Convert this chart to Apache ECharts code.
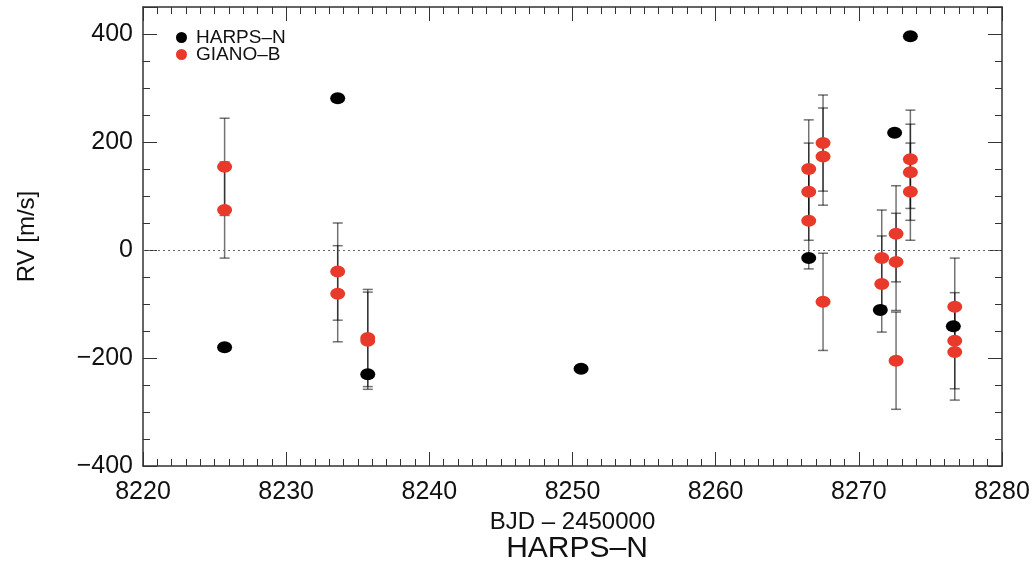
<!DOCTYPE html>
<html>
<head>
<meta charset="utf-8">
<script src="https://cdn.jsdelivr.net/npm/echarts@6/dist/echarts.min.js"></script>
<style>
  html, body { margin: 0; padding: 0; background: #fff; }
  #main { width: 1036px; height: 564px; }
</style>
</head>
<body>
<div id="main"></div>
<script>
// HARPS-N velocities (black)
var harpsX = [8225.7, 8233.6, 8235.7, 8250.6, 8266.5, 8271.5, 8272.5, 8273.6, 8276.6];
var harpsRV = [-180, 281, -230, -220, -15, -111, 217, 396, -141];

// GIANO-B velocities (red) with error bars
var gianoX = [8225.7, 8225.7, 8233.6, 8233.6, 8235.7, 8235.7,
  8266.5, 8266.5, 8266.5, 8267.5, 8267.5, 8267.5,
  8271.6, 8271.6, 8272.6, 8272.6, 8272.6,
  8273.6, 8273.6, 8273.6, 8276.7, 8276.7, 8276.7];
var gianoRV = [154, 74, -40, -81, -163, -168,
  150, 108, 54, 198, 173, -96,
  -15, -63, 30, -22, -205,
  168, 144, 108, -105, -168, -189];
var gianoErr = [90, 89, 90, 89, 90, 90,
  91, 90, 89, 89, 90, 90,
  89, 89, 89, 90, 90,
  91, 89, 90, 90, 89, 89];

var xTicks = [8220, 8230, 8240, 8250, 8260, 8270, 8280];
var yTicks = [-400, -200, 0, 200, 400];

var font = 'Liberation Sans, Arial, Helvetica, sans-serif';
var ink = '#111';

var harpsData = harpsX.map(function (x, i) { return [x, harpsRV[i]]; });
var gianoData = gianoX.map(function (x, i) { return [x, gianoRV[i]]; });
var errData = gianoX.map(function (x, i) { return [x, gianoRV[i] - gianoErr[i], gianoRV[i] + gianoErr[i]]; });

function fmtY(v) {
  if (yTicks.indexOf(v) < 0) return '';
  return String(v).replace('-', '\u2212');
}

var myChart = echarts.init(document.getElementById('main'));

var frameLine = { show: true, onZero: false, lineStyle: { color: '#333', width: 1.5 } };
var tickStyle = { color: '#333', width: 1 };

function xAx(pos, extra) {
  var a = {
    type: 'value',
    min: xTicks[0],
    max: xTicks[xTicks.length - 1],
    interval: 10,
    position: pos,
    axisLine: frameLine,
    axisTick: { inside: true, length: 14, lineStyle: tickStyle },
    minorTick: { show: true, splitNumber: 10, length: 7, lineStyle: tickStyle },
    axisLabel: { show: false },
    splitLine: { show: false }
  };
  for (var k in extra) a[k] = extra[k];
  return a;
}

function yAx(pos, step, extra) {
  var a = {
    type: 'value',
    min: -400,
    max: 450,
    interval: step,
    position: pos,
    axisLine: step === 200 ? frameLine : { show: false, onZero: false },
    axisTick: { inside: true, length: step === 200 ? 14 : 7, lineStyle: tickStyle },
    axisLabel: { show: false },
    splitLine: { show: false }
  };
  for (var k in extra) a[k] = extra[k];
  return a;
}

var option = {
  animation: false,
  backgroundColor: '#fff',
  title: {
    text: 'HARPS\u2013N',
    left: 572,
    top: 529,
    textAlign: 'center',
    textStyle: { fontFamily: font, fontSize: 30, fontWeight: 'normal', color: ink }
  },
  legend: {
    orient: 'vertical',
    left: 171,
    top: 23,
    itemGap: -2,
    itemWidth: 13,
    itemHeight: 11,
    icon: 'circle',
    textStyle: { fontFamily: font, fontSize: 19, lineHeight: 16, color: ink, padding: [0, 0, 0, 3] },
    data: ['HARPS\u2013N', 'GIANO\u2013B']
  },
  grid: { left: 143, right: 34, top: 7, bottom: 98 },
  xAxis: [
    xAx('bottom', {
      name: 'BJD \u2013 2450000',
      nameLocation: 'middle',
      nameGap: 34,
      nameTextStyle: { fontFamily: font, fontSize: 24, color: ink },
      axisLabel: { fontFamily: font, fontSize: 25, color: ink, margin: 14, formatter: function (v) { return String(v); } }
    }),
    xAx('top', {})
  ],
  yAxis: [
    yAx('left', 200, {
      name: 'RV [m/s]',
      nameLocation: 'middle',
      nameGap: 104,
      nameTextStyle: { fontFamily: font, fontSize: 24, color: ink },
      axisLabel: { fontFamily: font, fontSize: 25, color: ink, margin: 10, formatter: fmtY }
    }),
    yAx('left', 50, {}),
    yAx('right', 200, {}),
    yAx('right', 50, {})
  ],
  series: [{
    name: 'errors',
    type: 'custom',
    z: 1,
    silent: true,
    data: errData,
    encode: { x: 0, y: [1, 2] },
    renderItem: function (params, api) {
      var x = api.value(0);
      var lo = api.coord([x, api.value(1)]);
      var hi = api.coord([x, api.value(2)]);
      var cap = 5;
      var style = { stroke: 'rgba(0,0,0,0.55)', lineWidth: 1.5 };
      return {
        type: 'group',
        children: [
          { type: 'line', shape: { x1: lo[0], y1: lo[1], x2: hi[0], y2: hi[1] }, style: style },
          { type: 'line', shape: { x1: lo[0] - cap, y1: lo[1], x2: lo[0] + cap, y2: lo[1] }, style: style },
          { type: 'line', shape: { x1: hi[0] - cap, y1: hi[1], x2: hi[0] + cap, y2: hi[1] }, style: style }
        ]
      };
    }
  }, {
    name: 'GIANO\u2013B',
    type: 'scatter',
    z: 3,
    symbol: 'circle',
    symbolSize: [15, 12],
    itemStyle: { color: '#e8392a', opacity: 1 },
    data: gianoData
  }, {
    name: 'HARPS\u2013N',
    type: 'scatter',
    z: 4,
    symbol: 'circle',
    symbolSize: [15, 12],
    itemStyle: { color: '#000', opacity: 1 },
    data: harpsData,
    markLine: {
      silent: true,
      symbol: 'none',
      label: { show: false },
      lineStyle: { color: '#666', type: [2, 3], width: 1 },
      data: [{ yAxis: 0 }]
    }
  }]
};
myChart.setOption(option);
</script>
</body>
</html>
